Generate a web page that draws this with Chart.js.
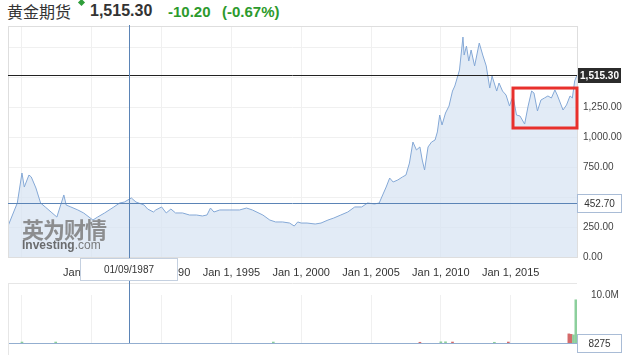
<!DOCTYPE html>
<html lang="zh">
<head>
<meta charset="UTF-8">
<title>黄金期货</title>
<script src="https://cdn.jsdelivr.net/npm/chart.js@4.4.0/dist/chart.umd.min.js"></script>
<style>
  body { margin: 0; width: 638px; height: 362px; overflow: hidden; background: #fff;
         font-family: "Liberation Sans", Arial, sans-serif; position: relative; }
  #head { position: absolute; left: 7px; top: 0; height: 22px; white-space: nowrap; }
  #head span { position: absolute; top: 2px; }
  .name { left: 0; font: 16px "Noto Sans CJK SC", sans-serif; color: #333; top: -1px !important; }
  .mark { left: 72px; top: 0 !important; width: 5px; height: 5px; background: #2f9e3a; transform: rotate(45deg); }
  .price { left: 83px; font-weight: bold; font-size: 16px; color: #333; }
  .chg { font-weight: bold; font-size: 15px; color: #2c9a2c; top: 3px !important; }
  canvas { position: absolute; left: 0; }
  #main { top: 0; }
  #vol { top: 283px; }
  #wm { position: absolute; left: 22px; top: 216px; color: #7d7d7d; opacity: .85; pointer-events: none; }
  #wm .cn { font: bold 22px "Noto Sans CJK SC", sans-serif; letter-spacing: -1px; line-height: 24px; }
  #wm .en { font-size: 12px; line-height: 12px; color: #666; margin-top: -1px; }
  #wm .en b { color: #555; }
</style>
</head>
<body>
<div id="head">
  <span class="name">黄金期货</span>
  <span class="mark"></span>
  <span class="price">1,515.30</span>
  <span class="chg" style="left:161px">-10.20</span>
  <span class="chg" style="left:215px">(-0.67%)</span>
</div>
<canvas id="main" width="638" height="283"></canvas>
<canvas id="vol" width="638" height="79"></canvas>
<div id="wm"><div class="cn">英为财情</div><div class="en"><b>Investing</b>.com</div></div>

<script>
// monthly closes
const months = [
  "1979-01","1979-09","1980-01","1980-03","1980-07","1980-09","1981-01","1981-05","1981-09",
  "1982-02","1982-07","1983-01","1983-03","1983-07","1984-01","1984-06","1985-02","1985-06",
  "1985-12","1986-08","1987-01","1987-05","1987-11","1988-03","1988-10","1989-01","1989-06",
  "1989-08","1990-01","1990-05","1990-09","1991-01","1991-07","1992-01","1992-07","1992-12",
  "1993-04","1993-07","1993-10","1994-03","1994-11","1995-08","1996-02","1996-07","1997-04",
  "1997-10","1998-03","1998-09","1999-03","1999-07","1999-10","2000-01","2000-06","2001-01",
  "2001-06","2001-12","2002-05","2002-11","2003-05","2003-11","2004-05","2004-10","2005-04",
  "2005-08","2005-11","2006-02","2006-05","2006-08","2006-12","2007-04","2007-07","2007-10",
  "2008-01","2008-04","2008-07","2008-09","2008-11","2009-02","2009-05","2009-08","2009-10",
  "2009-12","2010-02","2010-05","2010-08","2010-11","2011-01","2011-05","2011-08","2011-09",
  "2011-11","2012-01","2012-03","2012-06","2012-10","2013-01","2013-04","2013-07","2013-09",
  "2014-01","2014-03","2014-06","2014-09","2014-12","2015-03","2015-06","2015-09","2016-01",
  "2016-04","2016-07","2016-09","2016-12","2017-03","2017-06","2017-09","2017-12","2018-03",
  "2018-05","2018-10","2019-01","2019-04","2019-06","2019-08","2019-10"
];
const prices = [
  258, 450, 700, 583, 683, 667, 575, 450, 417,
  375, 333, 517, 433, 417, 392, 367, 308, 333,
  367, 417, 450, 458, 492, 458, 433, 400, 375,
  392, 417, 367, 400, 367, 367, 350, 350, 342,
  350, 408, 375, 392, 392, 392, 408, 392, 350,
  308, 292, 292, 283, 258, 292, 283, 283, 275,
  283, 308, 325, 350, 375, 417, 417, 450, 442,
  450, 517, 583, 658, 625, 642, 667, 683, 783,
  958, 892, 917, 808, 725, 917, 958, 975, 1042,
  1183, 1100, 1200, 1258, 1383, 1425, 1558, 1833, 1683,
  1758, 1633, 1725, 1592, 1783, 1683, 1592, 1408, 1508,
  1383, 1450, 1383, 1350, 1258, 1342, 1183, 1175, 1108,
  1258, 1383, 1367, 1217, 1308, 1325, 1342, 1325, 1392,
  1350, 1225, 1267, 1342, 1325, 1467, 1515.30
];

// volume bars (only a few visible)
const volMonths = ["1980-01","1982-06","1998-01","2008-07","2010-01","2010-05","2010-11",
                   "2013-11","2014-11","2019-03","2019-05","2019-07","2019-09"];
const volumes = [200000, 200000, 200000, 150000, 250000, 250000, 200000,
                 150000, 200000, 1900000, 1800000, 1700000, 9000000];
const volUp = [true, true, true, false, true, true, false, true, false, false, false, true, true];

const tickYears = [1980, 1985, 1990, 1995, 2000, 2005, 2010, 2015];
const priceTicks = [0, 250, 500, 750, 1000, 1250, 1500, 1750];
const hiddenPriceLabels = [500, 1500, 1750];
const volTicks = [0, 10000000];

const lastPrice = 1515.30;
const crossMonth = "1987-09";
const crossLabel = "01/09/1987";
const crossPrice = 452.70;
const crossVolume = "8275";
const highlight = { from: "2015-03", to: "2019-10", low: 1075, high: 1408 };

function toYear(s) { return +s.slice(0, 4) + (+s.slice(5, 7) - 1) / 12; }

const xMin = toYear(months[0]);
const xMax = toYear(months[months.length - 1]);
const crossX = toYear(crossMonth);
const fmt = v => v.toLocaleString("en-US", { minimumFractionDigits: 2, maximumFractionDigits: 2 });

function box(ctx, x, y, w, h, text, bg, border, color, bold) {
  ctx.save();
  ctx.fillStyle = bg;
  ctx.fillRect(x, y, w, h);
  if (border) { ctx.strokeStyle = border; ctx.lineWidth = 1; ctx.strokeRect(x + 0.5, y + 0.5, w - 1, h - 1); }
  ctx.fillStyle = color;
  ctx.font = (bold ? "bold " : "") + "10px 'Liberation Sans', Arial, sans-serif";
  ctx.textAlign = "center";
  ctx.textBaseline = "middle";
  ctx.fillText(text, x + w / 2, y + h / 2 + 0.5);
  ctx.restore();
}

const mainOverlay = {
  id: "mainOverlay",
  afterDatasetsDraw(chart) {
    const { ctx, chartArea: a, scales: { x, y } } = chart;
    ctx.save();
    // frame
    ctx.strokeStyle = "#dedede";
    ctx.lineWidth = 1;
    ctx.strokeRect(a.left + 0.5, a.top - 0.5, a.right - a.left, a.bottom - a.top + 1);
    // last price line
    const yl = Math.round(y.getPixelForValue(lastPrice)) + 0.5;
    ctx.strokeStyle = "#222";
    ctx.beginPath(); ctx.moveTo(a.left, yl); ctx.lineTo(a.right, yl); ctx.stroke();
    // crosshair
    const cx = Math.round(x.getPixelForValue(crossX)) + 0.5;
    const cy = Math.round(y.getPixelForValue(crossPrice)) + 0.5;
    ctx.strokeStyle = "#5b84b6";
    ctx.beginPath(); ctx.moveTo(a.left, cy); ctx.lineTo(a.right, cy); ctx.stroke();
    ctx.beginPath(); ctx.moveTo(cx, a.top - 2); ctx.lineTo(cx, chart.height); ctx.stroke();
    // red highlight
    const rx1 = x.getPixelForValue(toYear(highlight.from)), rx2 = x.getPixelForValue(toYear(highlight.to));
    const ry1 = y.getPixelForValue(highlight.high), ry2 = y.getPixelForValue(highlight.low);
    ctx.strokeStyle = "#e8302c";
    ctx.lineWidth = 3;
    ctx.strokeRect(rx1, ry1, rx2 - rx1, ry2 - ry1);
    ctx.restore();
  },
  afterDraw(chart) {
    const { ctx, chartArea: a, scales: { x, y } } = chart;
    const yl = y.getPixelForValue(lastPrice);
    box(ctx, a.right + 1, Math.round(yl) - 7, 43, 15, fmt(lastPrice), "#2b2b2b", null, "#fff", true);
    const cy = y.getPixelForValue(crossPrice);
    box(ctx, a.right, Math.round(cy) - 9, 45, 19, fmt(crossPrice), "#fff", "#a9bcd6", "#333", false);
    const cx = x.getPixelForValue(crossX);
    box(ctx, Math.round(cx) - 49, a.bottom + 1, 98, 23, crossLabel, "#fff", "#c4d0e0", "#333", false);
  }
};

const volOverlay = {
  id: "volOverlay",
  afterDatasetsDraw(chart) {
    const { ctx, chartArea: a, scales: { x } } = chart;
    ctx.save();
    ctx.strokeStyle = "#e6e6e6";
    ctx.beginPath(); ctx.moveTo(a.left + 0.5, 0); ctx.lineTo(a.left + 0.5, a.bottom + 12); ctx.stroke();
    ctx.beginPath(); ctx.moveTo(a.left, 0.5); ctx.lineTo(a.right, 0.5); ctx.stroke();
    const cx = Math.round(x.getPixelForValue(crossX)) + 0.5;
    ctx.strokeStyle = "#5b84b6";
    ctx.beginPath(); ctx.moveTo(cx, 0); ctx.lineTo(cx, a.bottom); ctx.stroke();
    ctx.restore();
  },
  afterDraw(chart) {
    const { ctx, chartArea: a } = chart;
    box(ctx, a.right, a.bottom - 9, 45, 19, crossVolume, "#fff", "#a9bcd6", "#333", false);
  }
};

const gridColor = "#f0f0f0";

new Chart(document.getElementById("main"), {
  type: "line",
  data: {
    datasets: [{
      data: months.map((m, i) => ({ x: toYear(m), y: prices[i] })),
      borderColor: "#84a8d6",
      borderWidth: 1,
      backgroundColor: "rgba(214,227,242,0.7)",
      fill: "origin",
      pointRadius: 0,
      tension: 0
    }]
  },
  options: {
    responsive: false,
    animation: false,
    devicePixelRatio: 1,
    layout: { padding: { left: 8, top: 27, right: 0, bottom: 0 } },
    plugins: { legend: { display: false }, tooltip: { enabled: false } },
    scales: {
      x: {
        type: "linear", min: xMin, max: xMax,
        afterBuildTicks: s => { s.ticks = tickYears.map(v => ({ value: v })); },
        afterFit: s => { s.height = 26; },
        grid: { color: gridColor, drawTicks: false },
        border: { display: false },
        ticks: {
          autoSkip: false, maxRotation: 0, padding: 9, color: "#333",
          font: { size: 11, family: "'Liberation Sans', Arial, sans-serif" },
          callback: v => (v === tickYears[0] ? "" : "Jan 1, " + v)
        }
      },
      y: {
        position: "right", min: 0, max: 230 / 0.12,
        afterBuildTicks: s => { s.ticks = priceTicks.map(v => ({ value: v })); },
        afterFit: s => { s.width = 61; },
        grid: { color: gridColor, drawTicks: false },
        border: { display: false },
        ticks: {
          padding: 6, color: "#444",
          font: { size: 10, family: "'Liberation Sans', Arial, sans-serif" },
          callback: v => (hiddenPriceLabels.includes(v) ? "" : fmt(v))
        }
      }
    }
  },
  plugins: [mainOverlay]
});

new Chart(document.getElementById("vol"), {
  type: "bar",
  data: {
    datasets: [{
      data: volMonths.map((m, i) => ({ x: toYear(m), y: volumes[i] })),
      backgroundColor: volUp.map(u => (u ? "#8ccf9c" : "#d46a6a")),
      barThickness: 2,
      borderWidth: 0
    }]
  },
  options: {
    responsive: false,
    animation: false,
    devicePixelRatio: 1,
    layout: { padding: { left: 8, top: 2, right: 0, bottom: 0 } },
    plugins: { legend: { display: false }, tooltip: { enabled: false } },
    scales: {
      x: {
        type: "linear", min: xMin, max: xMax, offset: false,
        afterBuildTicks: s => { s.ticks = tickYears.map(v => ({ value: v })); },
        afterFit: s => { s.height = 19; },
        grid: { color: gridColor, drawTicks: false, offset: false },
        border: { display: true, color: "#93aed0" },
        ticks: { display: false }
      },
      y: {
        position: "right", min: 0, max: 10000000,
        afterBuildTicks: s => { s.ticks = volTicks.map(v => ({ value: v })); },
        afterFit: s => { s.width = 61; },
        grid: { display: false },
        border: { display: false },
        ticks: {
          padding: 6, color: "#444",
          font: { size: 10, family: "'Liberation Sans', Arial, sans-serif" },
          callback: v => (v === 0 ? "" : (v / 1e6).toFixed(1) + "M")
        }
      }
    }
  },
  plugins: [volOverlay]
});
</script>
</body>
</html>
